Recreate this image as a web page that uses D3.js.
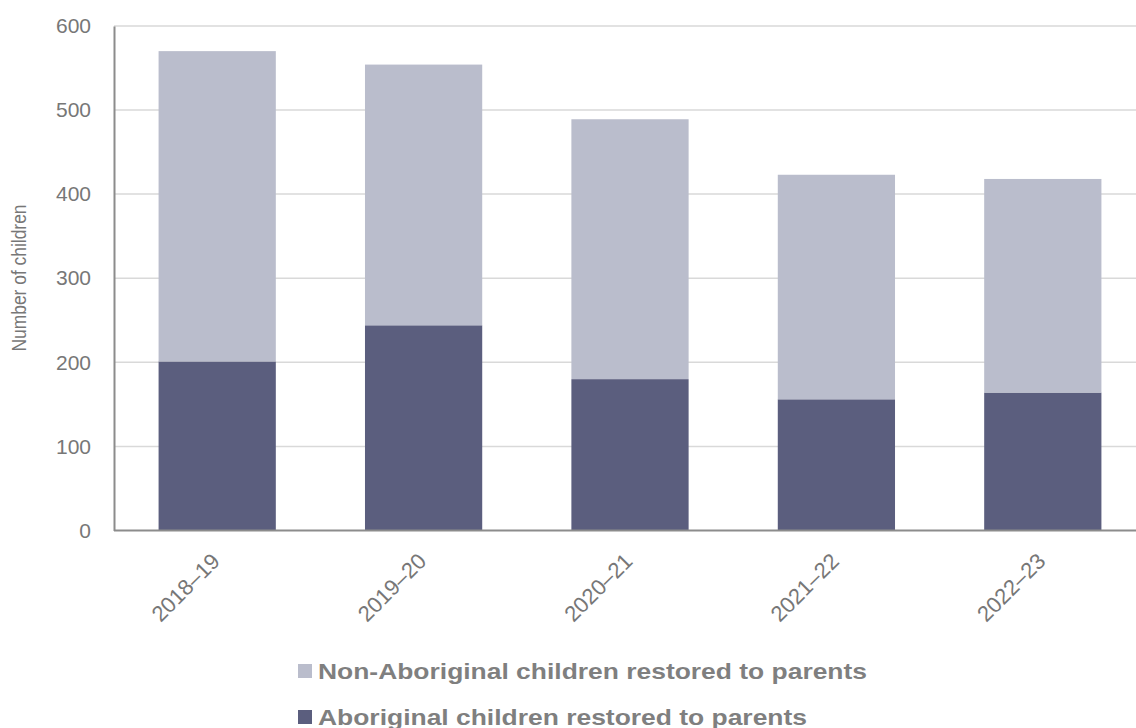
<!DOCTYPE html>
<html>
<head>
<meta charset="utf-8">
<script src="https://cdn.jsdelivr.net/npm/d3@7"></script>
<style>
  html, body { margin: 0; padding: 0; background: #fff; }
  svg { display: block; font-family: "Liberation Sans", Arial, sans-serif; }
</style>
</head>
<body>
<svg id="chart" width="1136" height="728"></svg>
<script>
// ---- data ----
const categories = ["2018–19", "2019–20", "2020–21", "2021–22", "2022–23"];
const aboriginal = [201, 244, 180, 156, 164];
const nonAboriginal = [369, 310, 309, 267, 254];
const yTicks = [0, 100, 200, 300, 400, 500, 600];
const seriesNames = ["Non-Aboriginal children restored to parents", "Aboriginal children restored to parents"];
const yTitle = "Number of children";

// ---- layout ----
const W = 1136, H = 728;
const plotLeft = 114, plotRight = 1146, plotTop = 25.9, plotBottom = 530.5;
const colDark = "#5b5e7e", colLight = "#babdcc";
const textCol = "#777777";

const svg = d3.select("#chart");

const x = d3.scaleBand().domain(categories).range([plotLeft, plotRight])
  .paddingInner(0.432).paddingOuter(0.216);
const y = d3.scaleLinear().domain([0, 600]).range([plotBottom, plotTop]);

// gridlines
svg.append("g").selectAll("line").data(yTicks.filter(d => d > 0)).join("line")
  .attr("x1", plotLeft).attr("x2", W)
  .attr("y1", d => y(d)).attr("y2", d => y(d))
  .attr("stroke", "#d9d9d9").attr("stroke-width", 1.5);

// stacked data
const rows = categories.map((c, i) => ({ cat: c, ab: aboriginal[i], non: nonAboriginal[i] }));
const stack = d3.stack().keys(["ab", "non"])(rows);
const colors = { ab: colDark, non: colLight };

svg.append("g").selectAll("g").data(stack).join("g")
  .attr("fill", d => colors[d.key])
  .selectAll("rect").data(d => d).join("rect")
  .attr("x", d => x(d.data.cat))
  .attr("width", x.bandwidth())
  .attr("y", d => y(d[1]))
  .attr("height", d => y(d[0]) - y(d[1]));

// y axis
const yAxis = svg.append("g").attr("transform", `translate(${plotLeft},0)`)
  .call(d3.axisLeft(y).tickValues(yTicks).tickSize(0).tickPadding(23));
yAxis.select(".domain").attr("stroke", "#8c8c8c").attr("stroke-width", 2);
yAxis.selectAll("text").attr("fill", textCol).attr("font-size", "21px")
  .attr("font-family", "Liberation Sans, Arial, sans-serif");

// x axis
const xAxis = svg.append("g").attr("transform", `translate(0,${plotBottom})`)
  .call(d3.axisBottom(x).tickSize(0).tickFormat(""));
xAxis.select(".domain").attr("d", `M${plotLeft},0H${W}`).attr("stroke", "#8c8c8c").attr("stroke-width", 2);

svg.append("g").selectAll("text").data(categories).join("text")
  .attr("transform", d => `translate(${x(d) + x.bandwidth() / 2 + 4},${plotBottom + 32}) rotate(-45)`)
  .attr("text-anchor", "end")
  .attr("fill", textCol)
  .attr("font-size", "22px")
  .text(d => d);

// y title
svg.append("text")
  .attr("transform", `translate(26,278) rotate(-90)`)
  .attr("text-anchor", "middle")
  .attr("fill", textCol)
  .attr("font-size", "20.5px")
  .attr("textLength", 147)
  .attr("lengthAdjust", "spacingAndGlyphs")
  .text(yTitle);

// legend
const legend = svg.append("g");
const legendItems = [
  { name: seriesNames[0], color: colLight, y: 664, len: 549 },
  { name: seriesNames[1], color: colDark, y: 710, len: 489 }
];
legend.selectAll("rect").data(legendItems).join("rect")
  .attr("x", 298).attr("y", d => d.y).attr("width", 14).attr("height", 14)
  .attr("fill", d => d.color);
legend.selectAll("text").data(legendItems).join("text")
  .attr("x", 318).attr("y", d => d.y + 14.5)
  .attr("fill", "#7f7f7f")
  .attr("font-size", "22.5px")
  .attr("font-weight", "bold")
  .attr("textLength", d => d.len)
  .attr("lengthAdjust", "spacingAndGlyphs")
  .text(d => d.name);
</script>
</body>
</html>
